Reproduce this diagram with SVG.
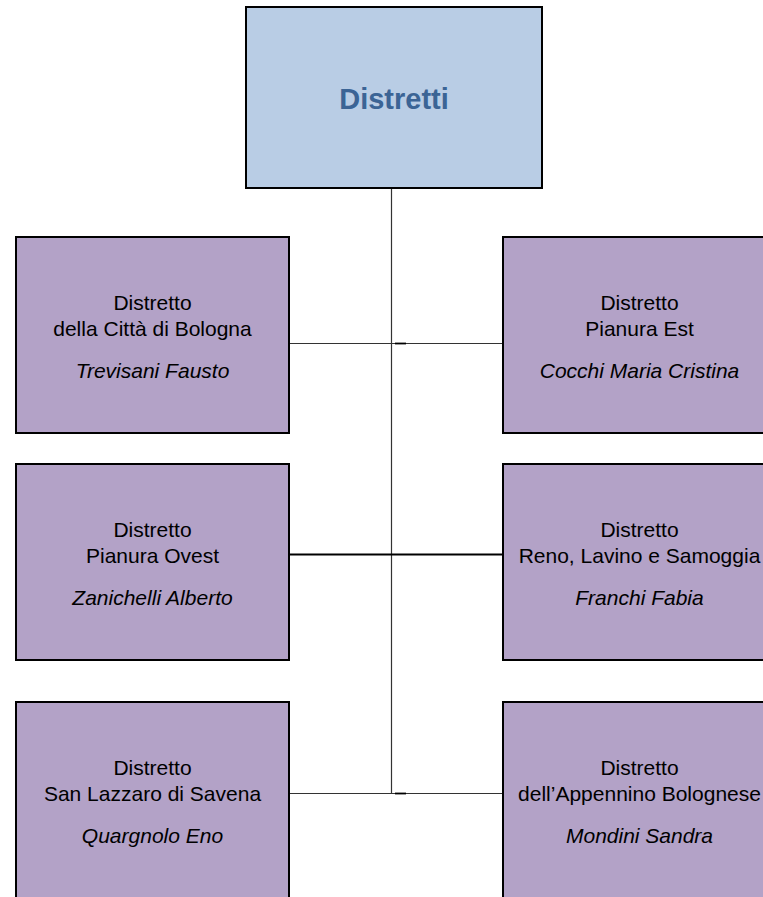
<svg xmlns="http://www.w3.org/2000/svg" width="763" height="897" viewBox="0 0 763 897">
<style>
.box{fill:#b3a2c7;stroke:#000;stroke-width:2}
.top{fill:#b9cde5;stroke:#000;stroke-width:2}
.t{font-family:"Liberation Sans",Arial,sans-serif;font-size:21px;fill:#000;text-anchor:middle}
.i{font-style:italic}
.title{font-family:"Liberation Sans",Arial,sans-serif;font-size:29px;font-weight:bold;fill:#3b6495;text-anchor:middle}
.c{stroke:#333;stroke-width:1.2;fill:none}
.c2{stroke:#000;stroke-width:1.8;fill:none}
</style>
<rect x="0" y="0" width="763" height="897" fill="#fff"/>
<g id="connectors">
<line class="c" x1="391.5" y1="188" x2="391.5" y2="793.5"/>
<line class="c" x1="289" y1="343.5" x2="503" y2="343.5"/>
<line class="c2" x1="395" y1="343.5" x2="406" y2="343.5"/>
<line class="c2" x1="289" y1="554.5" x2="503" y2="554.5"/>
<line class="c" x1="289" y1="793.5" x2="503" y2="793.5"/>
<line class="c2" x1="395" y1="793.5" x2="406" y2="793.5"/>
</g>
<g id="n-root">
<rect class="top" x="246" y="7" width="296" height="181"/>
<text class="title" x="394" y="109">Distretti</text>
</g>
<g id="n-bologna">
<rect class="box" x="16" y="237" width="273" height="196"/>
<text class="t" x="152.5" y="310">Distretto</text>
<text class="t" x="152.5" y="336">della Città di Bologna</text>
<text class="t i" x="152.5" y="378">Trevisani Fausto</text>
</g>
<g id="n-pianura-est">
<rect class="box" x="503" y="237" width="273" height="196"/>
<text class="t" x="639.5" y="310">Distretto</text>
<text class="t" x="639.5" y="336">Pianura Est</text>
<text class="t i" x="639.5" y="378">Cocchi Maria Cristina</text>
</g>
<g id="n-pianura-ovest">
<rect class="box" x="16" y="464" width="273" height="196"/>
<text class="t" x="152.5" y="537">Distretto</text>
<text class="t" x="152.5" y="563">Pianura Ovest</text>
<text class="t i" x="152.5" y="605">Zanichelli Alberto</text>
</g>
<g id="n-reno">
<rect class="box" x="503" y="464" width="273" height="196"/>
<text class="t" x="639.5" y="537">Distretto</text>
<text class="t" x="639.5" y="563">Reno, Lavino e Samoggia</text>
<text class="t i" x="639.5" y="605">Franchi Fabia</text>
</g>
<g id="n-san-lazzaro">
<rect class="box" x="16" y="702" width="273" height="210"/>
<text class="t" x="152.5" y="775">Distretto</text>
<text class="t" x="152.5" y="801">San Lazzaro di Savena</text>
<text class="t i" x="152.5" y="843">Quargnolo Eno</text>
</g>
<g id="n-appennino">
<rect class="box" x="503" y="702" width="273" height="210"/>
<text class="t" x="639.5" y="775">Distretto</text>
<text class="t" x="639.5" y="801">dell’Appennino Bolognese</text>
<text class="t i" x="639.5" y="843">Mondini Sandra</text>
</g>
</svg>
